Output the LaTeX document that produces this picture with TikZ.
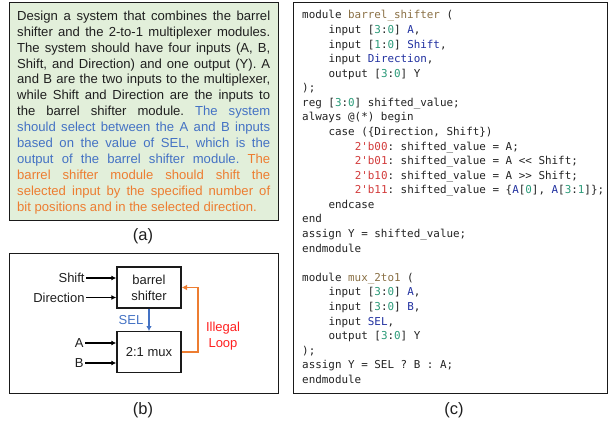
\documentclass[tikz,border=0pt]{standalone}
\usepackage{fontspec}
\setmainfont{Liberation Sans}
\newfontfamily\codefont{DejaVu Sans Mono}
\usetikzlibrary{arrows.meta}
\definecolor{framegray}{HTML}{1A1A1A}
\definecolor{promptgreen}{HTML}{E2EFDA}
\definecolor{selblue}{HTML}{4472C4}
\definecolor{looporange}{HTML}{ED7D31}
\definecolor{illegalred}{HTML}{FF2020}
\definecolor{codebrown}{HTML}{8A7045}
\definecolor{codegreen}{HTML}{2A9A78}
\definecolor{codeblue}{HTML}{1F2F9F}
\definecolor{codered}{HTML}{D23B3B}
\definecolor{codetext}{HTML}{222222}
\newcommand{\Nm}[1]{\textcolor{codebrown}{#1}}
\newcommand{\Nb}[1]{\textcolor{codegreen}{#1}}
\newcommand{\Id}[1]{\textcolor{codeblue}{#1}}
\newcommand{\Lt}[1]{\textcolor{codered}{#1}}
\newcommand{\Ia}{\hspace*{26.3pt}}
\newcommand{\Ib}{\hspace*{52.6pt}}
\frenchspacing
\tikzset{
  x=1pt,y=-1pt,
  panel/.style={draw=framegray,line width=1.4pt},
  blockbox/.style={draw=framegray,line width=1.4pt,minimum width=64pt,inner sep=0pt,align=center,text=black!88,font=\fontsize{13}{16}\selectfont},
  sig/.style={inner sep=1.2pt,text=black!88,font=\fontsize{13}{16}\selectfont},
  inarrow/.style={-{Latex[length=5pt,width=5pt]},line width=1.2pt,color=black},
  caption/.style={inner sep=0pt,font=\fontsize{16.5}{18}\selectfont,text=black!88},
}
\begin{document}
\begin{tikzpicture}
\useasboundingbox (0,0) rectangle (608,424);
% panel a
\node[panel,fill=promptgreen,anchor=north west,minimum width=269pt,minimum height=218pt,inner sep=0pt] (pa) at (9,2) {};
\node[anchor=north west,inner sep=0pt,text width=253pt,align=justify,text=black!88,font=\fontsize{13.1}{15.95}\selectfont] (prompt) at (17,10.5) {Design a system that combines the barrel\linebreak
shifter and the 2-to-1 multiplexer modules.\linebreak
The system should have four inputs (A, B,\linebreak
Shift, and Direction) and one output (Y). A\linebreak
and B are the two inputs to the multiplexer,\linebreak
while Shift and Direction are the inputs to\linebreak
the barrel shifter module. \textcolor{selblue}{The system\linebreak
should select between the A and B inputs\linebreak
based on the value of SEL, which is the\linebreak
output of the barrel shifter module.} \textcolor{looporange}{The\linebreak
barrel shifter module should shift the\linebreak
selected input by the specified number of\linebreak
bit positions and in the selected direction.}};
\node[caption] (capa) at (143,236) {(a)};
% panel b
\node[panel,anchor=north west,minimum width=269pt,minimum height=140pt,inner sep=0pt] (pb) at (9,253) {};
\node[blockbox,minimum height=41pt] (barrel) at (149,287.5) {barrel\\shifter};
\node[blockbox,minimum height=40.5pt] (mux) at (149,352) {2:1 mux};
\node[sig,anchor=east] (shift) at (86,278) {Shift};
\node[sig,anchor=east] (dir) at (86,297.5) {Direction};
\node[sig,anchor=east] (ina) at (85,343) {A};
\node[sig,anchor=east] (inb) at (85,363) {B};
\node[sig,text=selblue] (sel) at (131,320) {SEL};
\node[sig,text=illegalred,align=center] (illegal) at (223,336.5) {Illegal\\Loop};
\draw[inarrow] (shift.east) -- (shift.east -| barrel.west);
\draw[inarrow] (dir.east) -- (dir.east -| barrel.west);
\draw[inarrow] (ina.east) -- (ina.east -| mux.west);
\draw[inarrow] (inb.east) -- (inb.east -| mux.west);
\draw[-{Latex[length=5pt,width=5.5pt]},line width=1.3pt,color=selblue] (barrel.south) -- (mux.north);
\draw[-{Latex[length=5.5pt,width=6pt]},line width=1.7pt,color=looporange] (mux.east) -- ++(16,0) |- (barrel.east);
\node[caption] (capb) at (143,410.5) {(b)};
% panel c
\node[panel,anchor=north west,minimum width=314pt,minimum height=391pt,inner sep=0pt] (pc) at (293,2) {};
\node[anchor=north west,inner sep=0pt,align=left,text=codetext,font={\codefont\fontsize{10.9}{14.58}\selectfont}] (code) at (302,10.3) {%
module \Nm{barrel\_shifter} (\\
\Ia input [\Nb{3}:\Nb{0}] \Id{A},\\
\Ia input [\Nb{1}:\Nb{0}] \Id{Shift},\\
\Ia input \Id{Direction},\\
\Ia output [\Nb{3}:\Nb{0}] Y\\
);\\
reg [\Nb{3}:\Nb{0}] shifted\_value;\\
always @(*) begin\\
\Ia case (\{Direction, Shift\})\\
\Ib \Lt{2'b00}: shifted\_value = A;\\
\Ib \Lt{2'b01}: shifted\_value = A << Shift;\\
\Ib \Lt{2'b10}: shifted\_value = A >> Shift;\\
\Ib \Lt{2'b11}: shifted\_value = \{\Id{A}[\Nb{0}], \Id{A}[\Nb{3}:\Nb{1}]\};\\
\Ia endcase\\
end\\
assign Y = shifted\_value;\\
endmodule\\
\mbox{}\\
module \Nm{mux\_2to1} (\\
\Ia input [\Nb{3}:\Nb{0}] \Id{A},\\
\Ia input [\Nb{3}:\Nb{0}] \Id{B},\\
\Ia input \Id{SEL},\\
\Ia output [\Nb{3}:\Nb{0}] Y\\
);\\
assign Y = SEL ? B : A;\\
endmodule};
\node[caption] (capc) at (454,410.5) {(c)};
\end{tikzpicture}
\end{document}
